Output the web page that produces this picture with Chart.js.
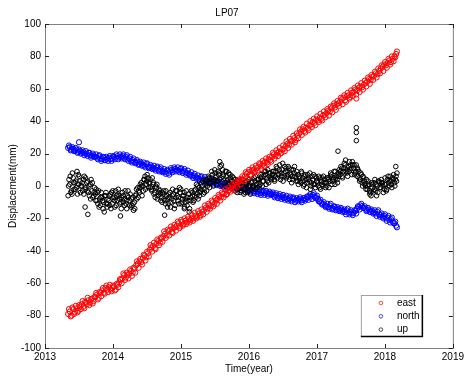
<!DOCTYPE html>
<html>
<head>
<meta charset="utf-8">
<script src="https://cdn.jsdelivr.net/npm/chart.js@4.4.1/dist/chart.umd.min.js"></script>
<style>
  html, body { margin: 0; padding: 0; background: #fff; }
  #wrap { width: 467px; height: 378px; }
</style>
</head>
<body>
<div id="wrap"><canvas id="c"></canvas></div>
<script>
// GPS station LP07, displacement in mm.
// "A" samples sit at T_START + i*T_STEP, "B" samples half a step later,
// "C" samples (vertical only) a quarter step later.
const T_START = 2013.34;
const T_STEP = 0.025;

const eastA = [
  -79, -77.5, -80, -76, -78, -75.5, -77, -74.5,
  -73, -74.5, -71.5, -73, -70.5, -72, -69.5, -71,
  -68.5, -67, -69, -66, -64.5, -66, -63, -64,
  -62.5, -64, -63, -62, -64, -61, -59.5, -58,
  -57, -55, -56.5, -55, -54, -52.5, -53.5, -51,
  -49, -48, -46.5, -47, -44.5, -43, -44, -41.5,
  -39.5, -38, -37, -38.5, -35.5, -34, -35, -32.5,
  -31, -29.5, -30.5, -28, -27, -28.5, -26, -25.5,
  -24.5, -23, -25, -22, -23.5, -21.5, -22.5, -20.5,
  -21, -19.5, -20, -18.5, -19, -17, -18, -16,
  -15, -13.5, -14, -12, -12.5, -10, -11, -9,
  -8, -6.5, -7, -5, -4.5, -5.5, -3, -2.5,
  -1.5, 0, 1, 0.5, 2.5, 3, 4.5, 4,
  6, 7.5, 8.5, 7, 9.5, 10, 9, 11,
  12, 13.5, 12.5, 14, 15, 14.5, 16.5, 16,
  18, 19.5, 18.5, 20.5, 21, 20, 22.5, 23,
  24.5, 26, 25.5, 27.5, 28, 29.5, 28.5, 31,
  32.5, 33.5, 35, 34, 36, 35.5, 37.5, 38,
  39.5, 39, 41, 40.5, 42, 41.5, 43.5, 44,
  45, 46.5, 46, 48, 49.5, 48.5, 50.5, 51,
  52, 53.5, 54.5, 53, 55.5, 56, 55, 57.5,
  58, 59.5, 59, 60.5, 61.5, 61, 62.5, 63.5,
  64.5, 66, 65.5, 67.5, 68, 69.5, 69, 71,
  72.5, 73.5, 75, 74.5, 76, 77.5, 76.5, 78.5,
  80, 81.5
];
const eastB = [
  -76, -80.5, -75, -79, -74, -78, -73.5, -76,
  -71, -75.5, -72, -69, -73.5, -70, -72.5, -68.5,
  -66, -70, -65.5, -68, -63, -66.5, -61.5, -65.5,
  -61, -65, -61.5, -64.5, -60.5, -62.5, -57.5, -60,
  -54, -58, -53.5, -57, -51.5, -55.5, -50.5, -53.5,
  -46.5, -50.5, -45, -48.5, -42.5, -46, -40.5, -43.5,
  -36.5, -40.5, -35, -39, -33, -36.5, -32, -34.5,
  -28, -32, -27, -30.5, -25, -29, -24, -27.5,
  -22, -26, -21, -24.5, -20, -23.5, -19, -22.5,
  -17.5, -21.5, -16.5, -20, -15.5, -19, -14.5, -17.5,
  -12, -16, -11, -14, -9, -12.5, -7.5, -11,
  -5.5, -9, -4, -7, -2, -5, -1, -3.5,
  1, -2.5, 2.5, -0.5, 4, 1, 6, 3,
  8.5, 5, 10, 6.5, 11.5, 8, 12.5, 9.5,
  14, 10.5, 15.5, 12.5, 17, 13.5, 18, 15,
  20.5, 17, 22, 18.5, 23.5, 20.5, 25, 21.5,
  27.5, 23.5, 29, 25.5, 31, 27, 32.5, 29.5,
  35, 31.5, 36.5, 33, 38.5, 34.5, 40, 36.5,
  41.5, 37.5, 43, 39.5, 44.5, 40.5, 46, 42.5,
  47.5, 43.5, 49, 45.5, 51, 47, 52.5, 49.5,
  54.5, 50.5, 56, 52, 57.5, 54, 59, 55.5,
  60.5, 56.5, 62, 58, 63.5, 59.5, 65, 61.5,
  67, 63, 68.5, 65.5, 70.5, 67, 72.5, 69.5,
  74.5, 71, 76.5, 73, 78.5, 75, 80, 77,
  79.5, 83
];

const northA = [
  23.5, 24, 22.5, 23, 22, 22.5, 21, 21.5,
  20.5, 21, 20, 19.5, 20.5, 19, 18.5, 19,
  18, 17.5, 18.5, 17, 16.5, 17.5, 16, 17,
  17.5, 16.5, 17, 18, 17.5, 18.5, 17.5, 18,
  18.5, 17.5, 18, 16.5, 17, 15.5, 16, 15,
  14.5, 15, 13.5, 14, 13, 12.5, 13.5, 12,
  11.5, 12, 11, 10.5, 11.5, 10, 10.5, 9.5,
  9, 8.5, 9.5, 8, 9, 10, 9.5, 10.5,
  10, 9.5, 10.5, 9, 9.5, 8.5, 8, 7.5,
  7, 6, 6.5, 5.5, 5, 4.5, 5.5, 4,
  4, 3, 3.5, 2.5, 3, 2, 2.5, 1.5,
  2, 1, 1.5, 0.5, 1, 0, 0.5, 1,
  0, -0.5, 0.5, -1, -0.5, -1.5, -0.5, -1,
  -2, -1.5, -2.5, -3, -2.5, -3.5, -3, -4,
  -3.5, -4.5, -4, -3.5, -4.5, -4, -5, -4.5,
  -5, -6, -5.5, -6.5, -6, -7, -6.5, -7.5,
  -7, -8, -7.5, -8.5, -7.5, -8, -9, -8.5,
  -8, -9, -8.5, -7.5, -8, -7, -6, -6.5,
  -5.5, -6.5, -7, -8, -9.5, -10.5, -11, -12,
  -12.5, -13, -12, -13.5, -14, -13, -14.5, -14,
  -15, -14.5, -15.5, -16, -15, -16.5, -16, -17,
  -16.5, -15.5, -14, -13, -12, -12.5, -13.5, -14,
  -15, -14.5, -16, -15.5, -16.5, -17, -16, -17.5,
  -18, -19, -18.5, -20, -19.5, -21, -20.5, -22,
  -23, -24.5
];
const northB = [
  25, 22, 24, 21.5, 23.5, 20.5, 22.5, 20,
  22, 19, 21.5, 18.5, 20.5, 17.5, 20, 18,
  19.5, 16.5, 19, 15.5, 18, 16, 18, 15.5,
  18.5, 15.5, 18.5, 16.5, 19.5, 16.5, 19.5, 17,
  19.5, 16.5, 19, 15.5, 18, 14.5, 17, 14,
  16, 13, 15, 12.5, 14.5, 11.5, 14, 11,
  13, 10.5, 12.5, 9.5, 12, 9, 11.5, 8.5,
  10.5, 7.5, 10, 7, 11, 8.5, 11.5, 9,
  11.5, 8.5, 11, 8, 10.5, 7, 9.5, 6.5,
  8.5, 5, 7.5, 4.5, 6.5, 3.5, 6, 3,
  5.5, 2, 4.5, 1.5, 4, 1, 3.5, 0.5,
  3, 0, 2.5, -0.5, 2, -1, 1.5, -0.5,
  1.5, -1.5, 1, -2, 0.5, -2.5, 0, -2,
  -0.5, -3, -1, -4, -1.5, -4.5, -2, -5,
  -2.5, -5.5, -3, -5.5, -3, -6, -3.5, -5.5,
  -4, -7, -4.5, -7.5, -5, -8, -5.5, -8.5,
  -6, -9, -6.5, -9.5, -7, -10, -7.5, -9.5,
  -7, -10, -7.5, -9, -6.5, -8.5, -5, -8,
  -4.5, -7.5, -6, -9.5, -8.5, -11.5, -10, -13,
  -11, -14, -11, -14.5, -12.5, -15, -13, -15.5,
  -13.5, -16, -14.5, -17.5, -14, -17.5, -15, -18,
  -15, -17, -12.5, -14.5, -11, -13.5, -12.5, -15.5,
  -13.5, -16, -14.5, -17, -15, -18.5, -15, -19,
  -17, -20, -17.5, -21.5, -18.5, -22.5, -19.5, -23,
  -22, -25.5
];

const upA = [
  -6, 1, -3, 5, 2, -1, 7, 3,
  0, 4, -2, 2, -4, 1, -3, -6,
  -5, -9, -3, -12, -7, -10, -6, -13,
  -9, -5, -11, -7, -3, -9, -6, -10,
  -4, -8, -11, -6, -9, -13, -7, -10,
  -5, -1, -4, 2, 0, 4, 1, 5,
  2, -2, 1, -4, -1, -6, -3, -7,
  -5, -9, -6, -11, -4, -8, -5, -12,
  -3, -7, -4, -10, -6, -8, -12, -5,
  -7, -4, -9, -2, -5, -1, -3, 0,
  -2, 3, 0, 5, 2, 7, 4, 6,
  3, 8, 5, 10, 2, 6, 4, 1,
  3, -1, 2, 0, -2, 1, -3, 0,
  -2, 1, -3, 0, 2, -1, 3, 1,
  4, 1, 6, 3, 7, 5, 2, 8,
  5, 9, 6, 11, 7, 4, 10, 8,
  9, 6, 11, 7, 4, 8, 5, 3,
  6, 2, 5, 1, 4, 7, 3, 0,
  4, 1, 5, 2, -1, 3, 0, 4,
  2, 5, 3, 7, 4, 1, 6, 8,
  7, 11, 9, 13, 8, 12, 10, 7,
  11, 8, 6, 9, 4, 2, 5, 0,
  -2, 1, -4, -1, 2, -3, 0, 3,
  -1, 2, -2, 1, 4, 0, 3, 5,
  2, 6
];
const upB = [
  4, -4, 8, -2, 3, -5, 6, 0,
  -3, 6, -1, 3, -6, 4, -7, -1,
  -2, -11, -8, -4, -14, -6, -11, -8,
  -12, -4, -8, -13, -6, -2, -11, -7,
  -10, -3, -14, -7, -5, -12, -15, -6,
  -8, -3, 1, -6, 4, -2, 7, 2,
  -1, 5, -5, 0, -8, -2, -9, -4,
  -8, -3, -13, -7, -10, -2, -14, -7,
  -9, -1, -11, -6, -13, -3, -9, -14,
  -3, -10, -6, 1, -8, -4, 2, -5,
  1, -3, 6, 2, 9, 0, 8, 3,
  7, 12, 0, 7, 9, 3, 8, 5,
  6, 0, 4, -4, 3, -1, 2, -5,
  2, -4, 4, -2, 0, 5, -2, 4,
  0, 7, 3, 9, 1, 10, 6, 4,
  9, 3, 12, 7, 13, 6, 3, 12,
  5, 12, 8, 2, 10, 6, 9, 1,
  3, 8, 0, 7, 2, 5, -2, 6,
  7, -1, 3, 6, -2, 5, 2, -1,
  5, -1, 8, 3, 9, 5, 2, 10,
  12, 5, 14, 9, 6, 15, 11, 13,
  7, 13, 10, 3, 7, 6, 1, 4,
  3, -5, 2, -3, 4, -6, 3, -1,
  2, -4, 5, -2, 2, 6, -1, 7,
  4, 8
];
const upC = [
  0, 6, -5, 2, -2, 9, 1, -4,
  2, -5, 5, -3, 0, -8, 2, -4,
  -9, -4, -13, -7, -9, -16, -4, -11,
  -6, -14, -3, -9, -12, -5, -8, -14,
  -6, -12, -9, -3, -12, -8, -11, -14,
  -2, -7, -1, 0, -3, 6, 3, -1,
  4, -3, 2, -7, 1, -4, -5, -10,
  -3, -11, -8, -5, -13, -6, -9, -3,
  -6, -11, -2, -8, -4, -10, -7, -16,
  -9, -6, -3, -7, 0, -6, -2, 3,
  -4, 4, 2, -1, 5, 3, 10, 1,
  9, 4, 13, 6, 0, 9, 2, 7,
  0, 5, -3, 3, 0, -4, 4, -2,
  -4, 3, 0, -5, 3, 0, 6, -1,
  2, 5, 0, 6, 9, 3, 8, 5,
  7, 4, 9, 5, 10, 8, 14, 6,
  11, 7, 4, 10, 6, 12, 3, 7,
  5, 9, 3, 6, -1, 4, 8, 2,
  1, 6, 3, 0, 5, 1, 6, 2,
  0, 4, 6, 1, 5, 9, 4, 6,
  9, 6, 11, 16, 10, 9, 13, 15,
  13, 9, 11, 5, 8, 0, 3, -2,
  0, -3, -6, 1, -2, 1, -4, 2,
  4, 0, 1, -3, 6, 3, 1, 4,
  0, 3
];

// isolated samples away from the main cloud
const eastOutT = [2017.58];
const eastOutV = [54];
const northOutT = [2013.5];
const northOutV = [27];
const upOutT = [2013.59, 2013.63, 2014.11, 2014.76, 2015.05, 2015.57, 2017.31, 2017.58, 2017.58, 2017.58, 2018.16];
const upOutV = [-13, -17.5, -18.5, -18, -14, 15, 21.5, 36, 33, 28, 12];

const xTicks = [2013, 2014, 2015, 2016, 2017, 2018, 2019];
const yTicks = [-100, -80, -60, -40, -20, 0, 20, 40, 60, 80, 100];

const FONT = "'Liberation Sans', Arial, sans-serif";
Chart.defaults.font.family = FONT;
Chart.defaults.font.size = 10;
Chart.defaults.color = '#000';

// runs: [[values, offset in steps], ...]
function series(label, runs, outT, outV, color, order, radius) {
  const pts = [];
  runs.forEach(([vals, off]) => {
    vals.forEach((v, i) => pts.push({ x: T_START + (i + off) * T_STEP, y: v }));
  });
  outT.forEach((t, i) => pts.push({ x: t, y: outV[i] }));
  return {
    label,
    data: pts,
    showLine: false,
    pointStyle: 'circle',
    pointRadius: radius,
    pointBorderWidth: 1,
    borderColor: color,
    backgroundColor: 'rgba(0,0,0,0)',
    pointHoverRadius: radius,
    order,
  };
}

// matlab style box with inward ticks on all four sides
const frame = {
  id: 'frame',
  afterDatasetsDraw(chart) {
    const { ctx, chartArea: a, scales } = chart;
    ctx.save();
    ctx.strokeStyle = '#808080';
    ctx.lineWidth = 1;
    ctx.strokeRect(a.left + 0.5, a.top + 0.5, a.right - a.left, a.bottom - a.top);
    ctx.strokeStyle = '#222';
    ctx.beginPath();
    xTicks.forEach((t) => {
      const px = Math.round(scales.x.getPixelForValue(t)) + 0.5;
      ctx.moveTo(px, a.bottom); ctx.lineTo(px, a.bottom - 4);
      ctx.moveTo(px, a.top); ctx.lineTo(px, a.top + 4);
    });
    yTicks.forEach((t) => {
      const py = Math.round(scales.y.getPixelForValue(t)) + 0.5;
      ctx.moveTo(a.left, py); ctx.lineTo(a.left + 4, py);
      ctx.moveTo(a.right, py); ctx.lineTo(a.right - 4, py);
    });
    ctx.stroke();
    ctx.restore();
  },
};

const legendBox = {
  id: 'legendBox',
  afterDraw(chart) {
    const { ctx, chartArea: a } = chart;
    const x = a.right - 92, y = a.bottom - 53, w = 61, h = 41;
    ctx.save();
    ctx.fillStyle = '#fff';
    ctx.fillRect(x, y, w, h);
    ctx.strokeStyle = '#a0a0a0';
    ctx.lineWidth = 1;
    ctx.strokeRect(x + 0.5, y + 0.5, w, h);
    ctx.strokeStyle = '#000';
    ctx.lineWidth = 1.5;
    ctx.beginPath();
    ctx.moveTo(x, y + h + 0.5); ctx.lineTo(x + w + 0.5, y + h + 0.5); ctx.lineTo(x + w + 0.5, y);
    ctx.stroke();
    ctx.font = '10px ' + FONT;
    ctx.textBaseline = 'middle';
    chart.data.datasets.slice().sort((p, q) => p.legendIndex - q.legendIndex).forEach((ds, i) => {
      const cy = y + 8 + i * 13.3;
      ctx.lineWidth = 0.7;
      ctx.strokeStyle = ds.borderColor;
      ctx.fillStyle = 'rgba(0,0,0,0)';
      Chart.helpers.drawPoint(ctx, { pointStyle: 'circle', radius: 1.8, borderWidth: 0.7 }, x + 20, cy);
      ctx.fillStyle = '#000';
      ctx.fillText(ds.label, x + 36, cy);
    });
    ctx.restore();
  },
};

const datasets = [
  series('east', [[eastA, 0], [eastB, 0.5]], eastOutT, eastOutV, '#ff0000', 0, 2.6),
  series('north', [[northA, 0], [northB, 0.5]], northOutT, northOutV, '#0000ff', 2, 2.6),
  series('up', [[upA, 0], [upB, 0.5], [upC, 0.25]], upOutT, upOutV, '#000000', 1, 2.3),
];
datasets.forEach((d, i) => { d.legendIndex = i; });

new Chart(document.getElementById('c'), {
  type: 'scatter',
  data: { datasets },
  options: {
    responsive: true,
    maintainAspectRatio: false,
    animation: false,
    events: [],
    layout: { padding: { left: 0, right: 13, top: 0, bottom: 0 } },
    plugins: {
      legend: { display: false },
      tooltip: { enabled: false },
      title: {
        display: true,
        text: 'LP07',
        color: '#000',
        font: { size: 10, weight: 'normal' },
        padding: { top: 7, bottom: 5 },
      },
    },
    scales: {
      x: {
        type: 'linear',
        min: 2013,
        max: 2019,
        afterBuildTicks: (s) => { s.ticks = xTicks.map((v) => ({ value: v })); },
        ticks: { padding: 3, maxRotation: 0, color: '#000', callback: (v) => String(v) },
        grid: { display: false, drawTicks: false },
        border: { display: false },
        title: { display: true, text: 'Time(year)', color: '#000', padding: { top: 0, bottom: 3 } },
        afterFit: (s) => { s.height = 30; },
      },
      y: {
        min: -100,
        max: 100,
        afterBuildTicks: (s) => { s.ticks = yTicks.map((v) => ({ value: v })); },
        ticks: { padding: 4, color: '#000', callback: (v) => String(v) },
        grid: { display: false, drawTicks: false },
        border: { display: false },
        title: { display: true, text: 'Displacement(mm)', color: '#000', padding: { top: 7, bottom: 0 } },
        afterFit: (s) => { s.width = 45; },
      },
    },
  },
  plugins: [frame, legendBox],
});
</script>
</body>
</html>
